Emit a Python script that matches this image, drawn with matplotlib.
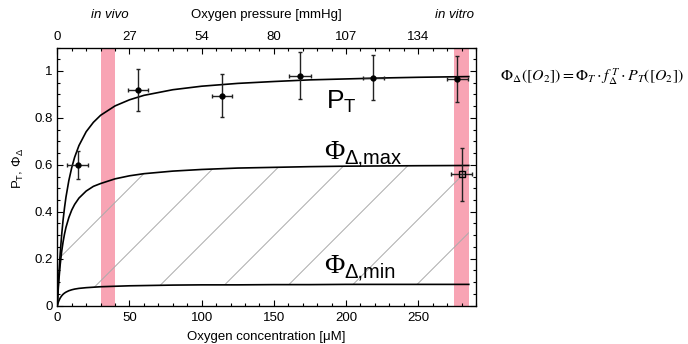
import numpy as np
import matplotlib
matplotlib.use("Agg")
import matplotlib.pyplot as plt
from matplotlib.patches import Polygon
from matplotlib.transforms import offset_copy
from matplotlib.ticker import MultipleLocator, FixedLocator, FixedFormatter

plt.rcParams['font.family'] = ['Liberation Sans', 'DejaVu Sans']
plt.rcParams['mathtext.fontset'] = 'custom'
plt.rcParams['mathtext.rm'] = 'Liberation Sans'
plt.rcParams['mathtext.it'] = 'Liberation Sans:italic'
plt.rcParams['mathtext.bf'] = 'Liberation Sans:bold'
plt.rcParams['mathtext.sf'] = 'Liberation Sans'

# ---- data ----
conc = [0, 0.5, 1, 2, 3, 4, 5, 6, 8, 10, 12, 15, 20, 25, 30, 40, 50, 60,
        80, 100, 125, 150, 175, 200, 225, 250, 285]
pt_curve = [0, 0.067, 0.125, 0.222, 0.300, 0.364, 0.417, 0.462, 0.533, 0.588,
            0.632, 0.682, 0.741, 0.781, 0.811, 0.851, 0.877, 0.896, 0.920,
            0.935, 0.947, 0.955, 0.962, 0.966, 0.970, 0.973, 0.976]
phimax_curve = [0, 0.056, 0.102, 0.174, 0.229, 0.271, 0.305, 0.333, 0.375,
                0.407, 0.431, 0.458, 0.488, 0.508, 0.520, 0.540, 0.553, 0.562,
                0.573, 0.580, 0.586, 0.589, 0.592, 0.594, 0.595, 0.596, 0.597]
phimin_curve = [0, 0.010, 0.019, 0.032, 0.041, 0.048, 0.053, 0.057, 0.063,
                0.067, 0.070, 0.073, 0.076, 0.078, 0.080, 0.082, 0.084, 0.085,
                0.087, 0.088, 0.088, 0.089, 0.089, 0.090, 0.090, 0.090, 0.090]

pt_x = [14, 56, 114, 168, 219, 277]
pt_y = [0.60, 0.92, 0.895, 0.98, 0.972, 0.967]
pt_xerr = [7, 7, 7, 7.4, 7, 7.4]
pt_yerr = [0.06, 0.09, 0.09, 0.10, 0.095, 0.098]

phi_x = [280]
phi_y = [0.56]
phi_xerr = [7.4]
phi_yerr = [0.113]

bands = [(30, 40), (275, 285)]
top_tick_pos = [0, 50, 100, 150, 200, 250]
top_tick_labels = ['0', '27', '54', '80', '107', '134']

# ---- figure ----
W, H = 688, 344
fig = plt.figure(figsize=(W / 100, H / 100), dpi=100)
ax = fig.add_axes([57.3 / W, 1 - 305.5 / H, (476 - 57.3) / W, (305.5 - 47.5) / H])
ax.set_xlim(0, 290)
ax.set_ylim(0, 1.1)

for a, b in bands:
    ax.axvspan(a, b, color='#f8a4b4', lw=0, zorder=0)

# hatched region between Phi_min and Phi_max
cx = np.asarray(conc, float)
poly_xy = np.column_stack([np.r_[cx, cx[::-1]],
                           np.r_[phimax_curve, phimin_curve[::-1]]])
region = Polygon(poly_xy, closed=True, facecolor='none', edgecolor='none')
ax.add_patch(region)
x0d, y0d = ax.transData.transform((24.5, 0.071))
inv = ax.transData.inverted()
for k in range(-3, 9):
    off = k * 64.0
    p1 = inv.transform((x0d + off - 300, y0d - 300))
    p2 = inv.transform((x0d + off + 300, y0d + 300))
    ln, = ax.plot([p1[0], p2[0]], [p1[1], p2[1]], color='#ababab', lw=0.7, zorder=1)
    ln.set_clip_path(region)

ax.plot(conc, pt_curve, color='black', lw=1.2, zorder=3)
ax.plot(conc, phimax_curve, color='black', lw=1.2, zorder=3)
ax.plot(conc, phimin_curve, color='black', lw=1.2, zorder=3)

ax.errorbar(pt_x, pt_y, xerr=pt_xerr, yerr=pt_yerr, fmt='o', ms=3.5,
            color='black', ecolor='#222222', elinewidth=1.0, capsize=1.5, capthick=1.0, zorder=4)
ax.errorbar(phi_x, phi_y, xerr=phi_xerr, yerr=phi_yerr, fmt='s', ms=5,
            mfc='none', mec='black', mew=1.0, color='black', ecolor='#222222',
            elinewidth=1.0, capsize=1.5, capthick=1.0, zorder=4)

# ticks
ax.xaxis.set_major_locator(MultipleLocator(50))
ax.xaxis.set_minor_locator(MultipleLocator(10))
ax.yaxis.set_major_locator(FixedLocator([0, 0.2, 0.4, 0.6, 0.8, 1.0]))
ax.yaxis.set_major_formatter(FixedFormatter(['0', '0.2', '0.4', '0.6', '0.8', '1']))
ax.yaxis.set_minor_locator(MultipleLocator(0.05))
ax.tick_params(which='both', direction='in', top=False, right=True, labelsize=9.5)
ax.tick_params(axis='x', which='major', pad=5)
ax.tick_params(which='major', length=4, width=0.8)
ax.tick_params(which='minor', length=2, width=0.8)
for s in ax.spines.values():
    s.set_linewidth(0.9)

ax.set_xlabel('Oxygen concentration [μM]', fontsize=9.5, labelpad=5)
ax.set_ylabel(r'P$_\mathregular{T}$, $\mathregular{\Phi_\Delta}$', fontsize=9.5)
ax.yaxis.set_label_coords(-0.074, 0.53)

top = ax.twiny()
top.set_xlim(ax.get_xlim())
top.xaxis.set_major_locator(FixedLocator(top_tick_pos))
top.xaxis.set_major_formatter(FixedFormatter(top_tick_labels))
top.xaxis.set_minor_locator(MultipleLocator(10))
top.tick_params(which='both', direction='in', labelsize=9.5, pad=3)
top.tick_params(which='major', length=4, width=0.8)
top.tick_params(which='minor', length=2, width=0.8)

fig.text(266 / W, 1 - 15 / H, 'Oxygen pressure [mmHg]', fontsize=9.5, ha='center', va='center')
fig.text(110 / W, 1 - 15 / H, 'in vivo', style='italic', fontsize=9.5, ha='center', va='center')
fig.text(455 / W, 1 - 15 / H, 'in vitro', style='italic', fontsize=9.5, ha='center', va='center')

# curve annotations
ax.text(186, 0.84, r'$\mathregular{P_T}$', fontsize=19, ha='left', va='baseline', zorder=5)
for ybase, sub in [(0.625, 'Δ,max'), (0.139, 'Δ,min')]:
    ax.text(185, ybase, 'Φ', fontsize=20, family='Liberation Serif',
            ha='left', va='baseline', zorder=5)
    ax.text(185, ybase, sub, fontsize=14.5, ha='left', va='baseline', zorder=5,
            transform=offset_copy(ax.transData, fig=fig, x=14.5, y=-3, units='points'))

fig.text(500 / W, 1 - 77 / H,
         r'$\Phi_\Delta\left(\left[O_2\right]\right)=\Phi_T\cdot f_\Delta^{\,T}\cdot P_T\left(\left[O_2\right]\right)$',
         fontsize=11.4, ha='left', va='center', math_fontfamily='stix')

fig.savefig('out.png', dpi=100)
